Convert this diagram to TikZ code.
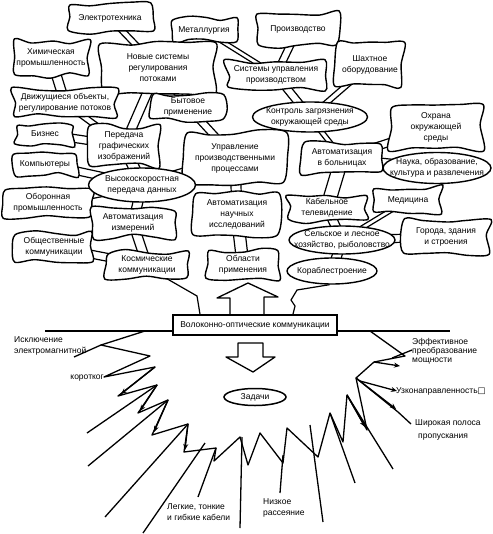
\documentclass[tikz,border=0pt]{standalone}
\usepackage{fontspec}
\setmainfont{Liberation Sans}
\newfontfamily\symfont{DejaVu Sans}
\usetikzlibrary{shapes.geometric, arrows.meta, calc}
\pgfdeclarelayer{bgl}
\pgfdeclarelayer{mid}
\pgfsetlayers{bgl,mid,main}
\newcommand\brv[3]{%
  \draw[br] ([xshift=#3]#1.center) -- ([xshift=#3]#2.center);
  \draw[br] ([xshift=-#3]#1.center) -- ([xshift=-#3]#2.center);}
\newcommand\brh[3]{%
  \draw[br] ([yshift=#3]#1.center) -- ([yshift=#3]#2.center);
  \draw[br] ([yshift=-#3]#1.center) -- ([yshift=-#3]#2.center);}
\newcommand\blobline[1]{%
  \filldraw[blobsty] plot[smooth cycle, tension=0.5] coordinates {
    ($(#1.north west)+(rand*2.5pt,rand*2.5pt)$)
    ($(#1.north)!0.5!(#1.north west)+(rand*2pt,rand*3pt)$)
    ($(#1.north)+(rand*3pt,rand*3pt)$)
    ($(#1.north)!0.5!(#1.north east)+(rand*2pt,rand*3pt)$)
    ($(#1.north east)+(rand*2.5pt,rand*2.5pt)$)
    ($(#1.east)+(rand*3pt,rand*2pt)$)
    ($(#1.south east)+(rand*2.5pt,rand*2.5pt)$)
    ($(#1.south)!0.5!(#1.south east)+(rand*2pt,rand*3pt)$)
    ($(#1.south)+(rand*3pt,rand*3pt)$)
    ($(#1.south)!0.5!(#1.south west)+(rand*2pt,rand*3pt)$)
    ($(#1.south west)+(rand*2.5pt,rand*2.5pt)$)
    ($(#1.west)+(rand*3pt,rand*2pt)$)};}
\begin{document}
\begin{tikzpicture}[x=1pt,y=-1pt,
  every node/.style={font=\fontsize{8.5}{11}\selectfont, align=center},
  blob/.style={inner sep=0pt},
  blobsty/.style={draw=black, fill=white, line width=1.4pt},
  oval/.style={draw, fill=white, ellipse, line width=1.4pt, inner sep=-20pt},
  br/.style={line width=1.2pt},
  root/.style={line width=1.3pt, line join=round},
  rarr/.style={line width=1.3pt, -{Stealth[length=6pt,width=5pt]}},
  arr/.style={line width=1.3pt, line join=round},
  lbl/.style={align=left, inner sep=0pt},
]
\pgfmathsetseed{11}
\useasboundingbox (0,0) rectangle (492,534);

% ---------- crown nodes ----------
\node[blob, minimum width=82pt, minimum height=27pt] (elec) at (110,18) {Электротехника};
\node[blob, minimum width=64pt, minimum height=23pt] (metal) at (204,30) {Металлургия};
\node[blob, minimum width=79pt, minimum height=33pt] (proizv) at (298,29) {Производство};
\node[blob, minimum width=74pt, minimum height=34pt] (chem) at (51,58) {Химическая\\промышленность};
\node[blob, minimum width=111pt, minimum height=47pt] (novye) at (158,68) {Новые системы\\регулирования\\потоками};
\node[blob, minimum width=98pt, minimum height=27pt] (sysupr) at (276,75) {Системы управления\\производством};
\node[blob, minimum width=66pt, minimum height=42pt] (shakht) at (370,65) {Шахтное\\оборудование};
\node[blob, minimum width=102pt, minimum height=27pt] (dvizh) at (65,103) {Движущиеся объекты,\\регулирование потоков};
\node[blob, minimum width=73pt, minimum height=26pt] (byt) at (188,107) {Бытовое\\применение};
\node[oval, minimum width=115pt, minimum height=30pt] (kontrol) at (310,117) {Контроль загрязнения\\окружающей среды};
\node[blob, minimum width=92pt, minimum height=43pt] (okhrana) at (436,127) {Охрана\\окружающей\\среды};
\node[blob, minimum width=58pt, minimum height=21pt] (biz) at (45,134) {Бизнес};
\node[blob, minimum width=68pt, minimum height=39pt] (pered) at (124,146) {Передача\\графических\\изображений};
\node[blob, minimum width=100pt, minimum height=51pt] (upr) at (235,158) {Управление\\производственными\\процессами};
\node[blob, minimum width=78pt, minimum height=31pt] (avtbol) at (342,158) {Автоматизация\\в больницах};
\node[oval, minimum width=108pt, minimum height=31pt] (nauka) at (437,168) {Наука, образование,\\культура и развлечения};
\node[blob, minimum width=62pt, minimum height=22pt] (komp) at (45,164) {Компьютеры};
\node[oval, minimum width=107pt, minimum height=34pt] (vysok) at (142,185) {Высокоскоростная\\передача данных};
\node[blob, minimum width=88pt, minimum height=28pt] (obor) at (48,203) {Оборонная\\промышленность};
\node[blob, minimum width=81pt, minimum height=28pt] (avtizm) at (133,223) {Автоматизация\\измерений};
\node[blob, minimum width=84pt, minimum height=44pt] (avtnauch) at (237,214) {Автоматизация\\научных\\исследований};
\node[blob, minimum width=78pt, minimum height=25pt] (kabel) at (327,208) {Кабельное\\телевидение};
\node[blob, minimum width=66pt, minimum height=25pt] (medic) at (408,200) {Медицина};
\node[blob, minimum width=78pt, minimum height=27pt] (obshch) at (54,247) {Общественные\\коммуникации};
\node[blob, minimum width=81pt, minimum height=25pt] (kosm) at (147,265) {Космические\\коммуникации};
\node[blob, minimum width=71pt, minimum height=27pt] (oblasti) at (243,265) {Области\\применения};
\node[oval, minimum width=106pt, minimum height=28pt] (selsk) at (342,240) {Сельское и лесное\\хозяйство, рыболовство};
\node[blob, minimum width=86pt, minimum height=34pt] (goroda) at (446,237) {Города, здания\\и строения};
\node[oval, minimum width=90pt, minimum height=26pt] (korabl) at (332,271) {Кораблестроение};

% ---------- central box and tasks ----------
\node[draw, fill=white, line width=1.6pt, inner sep=0pt, minimum width=164pt, minimum height=20pt] (fiber) at (255,325) {Волоконно-оптические коммуникации};
\node[oval, line width=1.5pt, minimum width=62pt, minimum height=17pt] (zadachi) at (255,397) {Задачи};

% ---------- blob outlines ----------
\begin{pgfonlayer}{mid}
\foreach \b in {elec,metal,proizv,chem,novye,sysupr,shakht,dvizh,byt,okhrana,biz,pered,upr,avtbol,komp,obor,avtizm,avtnauch,kabel,medic,obshch,kosm,oblasti,goroda}{\blobline{\b}}
\end{pgfonlayer}

% ---------- branches and trunk ----------
\begin{pgfonlayer}{bgl}
\fill[white] (0,0) rectangle (492,534);
\brv{elec}{novye}{4pt}
\brv{metal}{sysupr}{4pt}
\brv{proizv}{sysupr}{4pt}
\brv{sysupr}{kontrol}{5pt}
\brv{shakht}{kontrol}{4pt}
\brv{chem}{dvizh}{5pt}
\brv{novye}{pered}{5pt}
\brv{novye}{byt}{4pt}
\brv{byt}{upr}{5pt}
\brh{biz}{pered}{4pt}
\brv{dvizh}{pered}{5pt}
\brh{komp}{vysok}{4pt}
\brv{pered}{vysok}{6pt}
\brh{upr}{vysok}{5pt}
\brh{obor}{vysok}{4pt}
\brv{avtizm}{vysok}{5pt}
\brv{upr}{avtnauch}{5pt}
\brv{kontrol}{avtbol}{3pt}
\brh{okhrana}{avtbol}{4pt}
\brh{nauka}{avtbol}{4pt}
\brv{avtbol}{kabel}{7pt}
\brv{kabel}{selsk}{5pt}
\brh{goroda}{selsk}{4pt}
\brv{medic}{selsk}{4pt}
\brv{selsk}{korabl}{5pt}
\brv{avtnauch}{oblasti}{6pt}
\brh{obshch}{kosm}{4pt}
\brv{avtizm}{kosm}{5pt}
\draw[br] (kosm.-35) -- (197,296) -- ([xshift=-55pt]fiber.north);
\draw[br] (korabl.-100) -- (297,290) -- (291,300) -- (295,306) -- ([xshift=38pt]fiber.north);
\draw[line width=1.3pt] (45,331) -- (450,331);
\end{pgfonlayer}

% ---------- block arrows ----------
\draw[arr] (230,315) -- (230,298) -- (217,298) -- (248,283) -- (278,297) -- (264,297) -- (264,315);
\draw[arr] (238,343) -- (263,343) -- (263,357) -- (275,357) -- (253,372) -- (226,357) -- (238,357) -- cycle;

% ---------- roots ----------
\draw[root] (145,331) -- (101,345) -- (150,356) -- (104,377) -- (155,367) -- (118,396) -- (157,385)
  -- (138,413) -- (168,400) -- (152,435) -- (188,424) -- (184,452) -- (216,448) -- (214,461)
  -- (240,437) -- (248,465) -- (260,433) -- (283,463) -- (287,428) -- (318,457) -- (330,413)
  -- (343,442) -- (347,395) -- (367,430) -- (356,378) -- (398,412) -- (411,424);
\draw[root] (370,331) -- (405,356) -- (374,362) -- (356,378);
\draw[root] (392,358) -- (412,350);
\draw[root] (101,345) -- (74,357);
\draw[root] (157,385) -- (87,433);
\draw[root] (168,400) -- (88,466);
\draw[root] (188,424) -- (105,517);
\draw[root] (205,443) -- (143,533);
\draw[root] (216,448) -- (198,497);
\draw[root] (242,437) -- (240,528);
\draw[root] (283,455) -- (280,493);
\draw[root] (310,425) -- (323,522);
\draw[root] (330,413) -- (355,483);
\draw[root] (347,395) -- (393,469);
\draw[rarr] (155,367) -- (121,394);
\draw[rarr] (157,385) -- (140,411);
\draw[rarr] (168,400) -- (154,432);
\draw[rarr] (188,424) -- (185,450);
\draw[rarr] (347,395) -- (365,427);
\draw[rarr] (356,378) -- (396,409);
\draw[rarr] (360,381) -- (397,391);
\draw[rarr] (374,362) -- (400,366);

% ---------- root labels ----------
\node[lbl, anchor=west] (isk) at (14,346) {Исключение\\электромагнитной};
\node[lbl, anchor=east] (korot) at (104,378) {коротког};
\node[lbl, anchor=west, font=\fontsize{8.5}{9.2}\selectfont] (effekt) at (412,351) {Эффективное\\преобразование\\мощности};
\node[lbl, anchor=west] (uzko) at (396,391) {Узконаправленность{\symfont □}};
\node[lbl, anchor=west, font=\fontsize{8.5}{13}\selectfont] (shir) at (415,430) {Широкая полоса\\\hspace*{3pt}пропускания};
\node[lbl, anchor=west] (legk) at (167,512) {Легкие, тонкие\\и гибкие кабели};
\node[lbl, anchor=west] (nizk) at (263,508) {Низкое\\рассеяние};
\end{tikzpicture}
\end{document}
